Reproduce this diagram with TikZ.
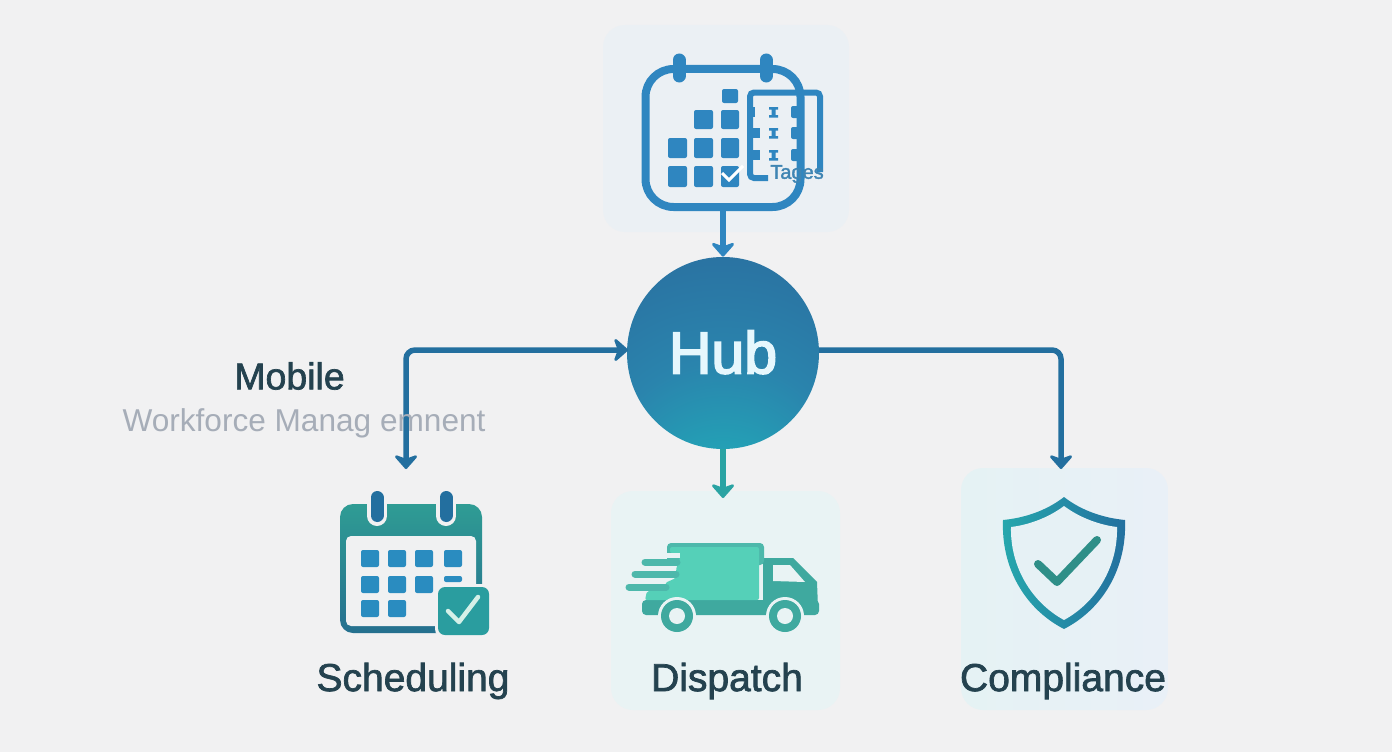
\documentclass[tikz,border=0pt]{standalone}
\usepackage{fontspec}
\usetikzlibrary{arrows.meta}
\setmainfont{Liberation Sans}
\newfontfamily\medfont[FakeBold=1.8]{Liberation Sans}
\newfontfamily\hubfont[FakeBold=3]{Liberation Sans}
\definecolor{pagebg}{HTML}{F1F1F2}
\definecolor{calblue}{HTML}{2F86C0}
\definecolor{linkblue}{HTML}{236F9F}
\definecolor{linkteal}{HTML}{2AA3A3}
\definecolor{inkdark}{HTML}{24424F}
\definecolor{greytext}{HTML}{A6ADB8}
\definecolor{toppanel}{HTML}{EBF0F4}
\definecolor{truckpanel}{HTML}{E9F3F4}
\definecolor{shieldpanel}{HTML}{E5F2F4}
\definecolor{shieldright}{HTML}{E9F0F7}
\definecolor{truckdark}{HTML}{3FA99F}
\definecolor{trucklight}{HTML}{55D0B8}
\definecolor{truckline}{HTML}{4DB8AB}
\definecolor{squareblue}{HTML}{2A8CC0}
\definecolor{calteal}{HTML}{2F9C94}
\definecolor{calbottom}{HTML}{25708F}
\definecolor{boxteal}{HTML}{2A9D9F}
\definecolor{checklight}{HTML}{D5F0E8}
\definecolor{checkteal}{HTML}{2F8F88}
\definecolor{shieldteal}{HTML}{26A8AD}
\definecolor{hubglow}{HTML}{20B0BA}
\definecolor{hubmid}{HTML}{2A84AD}
\definecolor{hubtop}{HTML}{2A689B}
\pgfdeclareradialshading{hubshade}{\pgfpoint{0bp}{-50bp}}{color(0bp)=(hubglow); color(8bp)=(hubglow); color(32bp)=(hubmid); color(62bp)=(hubtop); color(100bp)=(hubtop)}
\begin{document}
\begin{tikzpicture}[x=1pt, y=-1pt, thick,
  >={Stealth[length=16pt, width=28pt, inset=5pt, round]},
  panel/.style = {rectangle, rounded corners=22pt, minimum width=#1},
  link/.style = {draw=linkblue, line width=5.5pt, rounded corners=9pt},
  label/.style = {text=inkdark, font=\medfont\fontsize{39}{42}\selectfont},
  topsquare/.style = {fill=calblue, rounded corners=2pt},
  lowsquare/.style = {fill=squareblue, rounded corners=2pt},
  pin/.style = {fill=calblue},
  speedline/.style = {draw=truckline, line width=7pt, line cap=round}]
\useasboundingbox (0,0) rectangle (1392,752);
\fill[pagebg] (0,0) rectangle (1392,752);

% panels
\node[panel=246pt, fill=toppanel, minimum height=207pt] (top) at (726,128.5) {};
\node[panel=229pt, fill=truckpanel, minimum height=219pt] (dispatch) at (725.5,600.5) {};
\node[panel=207pt, left color=shieldpanel, right color=shieldright, minimum height=242pt] (compliance) at (1064.5,589) {};

% top calendar
\node[draw=calblue, line width=8pt, rounded corners=28pt, minimum width=155pt, minimum height=138pt, inner sep=0pt] (cal) at (723,138) {};
\draw[calblue, line width=13pt, line cap=round] (679,60) -- (679,76);
\draw[calblue, line width=13pt, line cap=round] (766,60) -- (766,76);
\fill[topsquare] (722,89) rectangle (738,103);
\fill[topsquare] (694,110) rectangle (713,129);
\fill[topsquare] (721,110) rectangle (739,129);
\fill[topsquare] (668,138) rectangle (687,158);
\fill[topsquare] (694,138) rectangle (713,158);
\fill[topsquare] (721,138) rectangle (739,158);
\fill[topsquare] (668,166) rectangle (687,187);
\fill[topsquare] (694,166) rectangle (713,187);
\fill[topsquare] (721,166) rectangle (739,187);
\draw[white, line width=3pt] (722,173) -- (729,180) -- (743,166);
\draw[calblue, line width=6pt, rounded corners=4pt] (768,178) -- (750,178) -- (750,92.5) -- (820,92.5) -- (820,172);
\fill[pin] (769,107) rectangle (778,109.5) (771.5,109.5) rectangle (775.5,115) (769,115) rectangle (778,117.5);
\fill[pin] (769,128) rectangle (778,130.5) (771.5,130.5) rectangle (775.5,136) (769,136) rectangle (778,138.5);
\fill[pin] (769,150) rectangle (778,152.5) (771.5,152.5) rectangle (775.5,158) (769,158) rectangle (778,160.5);
\fill[pin, rounded corners=2pt] (791,106) rectangle (803,118);
\fill[pin, rounded corners=2pt] (791,127) rectangle (803,139);
\fill[pin, rounded corners=2pt] (791,149) rectangle (803,161);
\fill[pin] (750,107) rectangle (755,117);
\fill[pin] (750,128) rectangle (760,138);
\fill[pin] (750,150) rectangle (760,160);
\node[text=calblue!80!gray, font=\medfont\fontsize{20}{22}\selectfont, inner sep=0pt] (tages) at (797,174) {Tages};

% hub
\node[circle, minimum size=192pt, inner sep=0pt, shade, shading=hubshade, text=white!90!cyan, font=\hubfont\fontsize{59}{62}\selectfont] (hub) at (723,353) {\raisebox{2pt}{Hub}};

% connectors
\coordinate (schedin) at (406,469);
\coordinate (hubin) at (628,350);
\coordinate (hubout) at (819,350);
\coordinate (compin) at (1061,469);
\coordinate (dispin) at (723,498);
\draw[link, draw=calblue, ->] (cal.south) -- (hub.north);
\draw[link, <->] (schedin) |- (hubin);
\draw[link, ->] (hubout) -| (compin);
\draw[link, draw=linkteal, ->] (hub.south) -- (dispin);

% text left
\node[label, font=\medfont\fontsize{37.5}{40}\selectfont] (mobile) at (289.5,376) {Mobile};
\node[text=greytext, font=\fontsize{31.6}{34}\selectfont, inner sep=0pt] (workforce) at (304,423) {Workforce Manag emnent};

% scheduling calendar
\shade[top color=calteal, bottom color=calbottom, rounded corners=13pt] (340,504) rectangle (482,633);
\fill[pagebg!90!toppanel, rounded corners=5pt] (346,536) -- (476,536) -- (476,626) -- (346,626) -- cycle;
\draw[pagebg, line width=20pt, line cap=round] (377,500) -- (377,516);
\draw[pagebg, line width=20pt, line cap=round] (446,500) -- (446,516);
\draw[linkblue, line width=13pt, line cap=round] (377,497.5) -- (377,515.5);
\draw[linkblue, line width=13pt, line cap=round] (446,497.5) -- (446,515.5);
\fill[lowsquare] (361,550) rectangle (379,567);
\fill[lowsquare] (388,550) rectangle (406,567);
\fill[lowsquare] (415,550) rectangle (433,567);
\fill[lowsquare] (444,550) rectangle (462,567);
\fill[lowsquare] (361,576) rectangle (379,593);
\fill[lowsquare] (388,576) rectangle (406,593);
\fill[lowsquare] (415,576) rectangle (433,593);
\fill[lowsquare] (444,576) rectangle (462,582);
\fill[lowsquare] (361,600) rectangle (379,617);
\fill[lowsquare] (388,600) rectangle (406,617);
\fill[pagebg, rounded corners=9pt] (435,584) rectangle (492,638);
\fill[boxteal, rounded corners=7pt] (438,587) rectangle (489,635);
\draw[checklight, line width=4.5pt, line cap=round, line join=round] (448,611) -- (459,622) -- (478,597);

% truck
\fill[truckdark] (763,558) -- (793,558) -- (817,582) -- (818,608) -- (763,608) -- cycle;
\fill[truckdark, rounded corners=4pt] (642,600) rectangle (819,615);
\fill[truckline, rounded corners=4pt] (667,543) rectangle (764,565);
\fill[trucklight, rounded corners=2pt] (670,547) -- (759,547) -- (759,600) -- (645,600) -- (647,591) -- (665,591) -- (665,583) -- (676,578) -- (676,570) -- (677,566) -- (680,558) -- (680,553) -- (670,553) -- cycle;
\fill[truckpanel] (662,553) rectangle (680,557.5);
\draw[speedline] (645,562) -- (677,562);
\draw[speedline] (635,574) -- (676,574);
\draw[speedline] (629,587) -- (666,587);
\fill[truckpanel] (773,565) -- (790,565) -- (805,582) -- (773,581) -- cycle;
\fill[truckpanel] (677,616) circle (19);
\fill[truckpanel] (785,616) circle (19);
\fill[truckdark] (677,616) circle (16);
\fill[truckdark] (785,616) circle (16);
\fill[truckpanel] (677,616) circle (8);
\fill[truckpanel] (785,616) circle (8);

% shield
\shade[left color=shieldteal, right color=linkblue] (1064,497) .. controls (1082,511) and (1104,518) .. (1125,520) .. controls (1127,568) and (1103,609) .. (1064,629) .. controls (1025,609) and (1001,568) .. (1003,520) .. controls (1024,518) and (1046,511) .. (1064,497) -- cycle;
\fill[shieldpanel!70!shieldright] (1064,506) .. controls (1080,518) and (1100,525) .. (1117,527) .. controls (1118,566) and (1097,602) .. (1064,620) .. controls (1031,602) and (1010,566) .. (1011,527) .. controls (1028,525) and (1048,518) .. (1064,506) -- cycle;
\draw[checkteal, line width=8pt, line cap=round, line join=round] (1038,564) -- (1057,582) -- (1097,540);

% labels
\node[label] (scheduling) at (413,681) {Scheduling};
\node[label] (dispatchlabel) at (727,681) {Dispatch};
\node[label] (compliancelabel) at (1063,681) {Compliance};
\end{tikzpicture}
\end{document}
